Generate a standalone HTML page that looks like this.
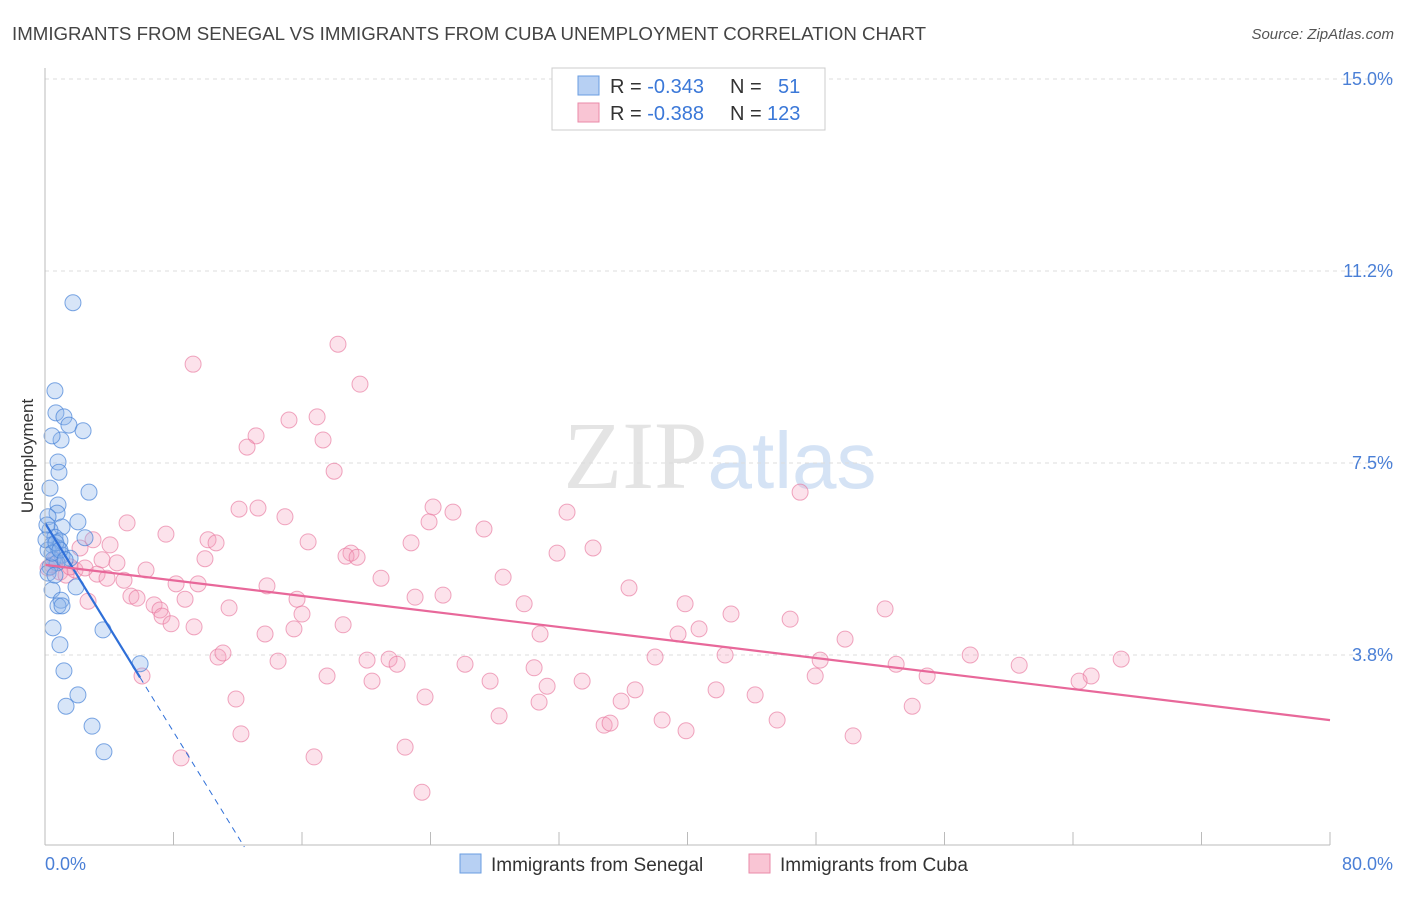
<!DOCTYPE html>
<html><head><meta charset="utf-8"><style>
body{margin:0;background:#fff;font-family:"Liberation Sans",sans-serif;}
svg text{font-family:"Liberation Sans",sans-serif;}
</style></head><body>
<svg id="chart" width="1406" height="892" xmlns="http://www.w3.org/2000/svg">
<text x="12" y="40" font-size="18.7" fill="#444">IMMIGRANTS FROM SENEGAL VS IMMIGRANTS FROM CUBA UNEMPLOYMENT CORRELATION CHART</text>
<text x="1394" y="39" font-size="15" fill="#555" text-anchor="end" font-style="italic">Source: ZipAtlas.com</text>
<text x="720" y="488" font-size="96" text-anchor="middle" fill="#e4e4e4"><tspan font-family="Liberation Serif">ZIP</tspan><tspan fill="#d5e3f5" font-size="80">atlas</tspan></text>
<text transform="translate(33,456) rotate(-90)" font-size="17" fill="#333" text-anchor="middle">Unemployment</text>
<g id="grid"></g><g id="pts"></g><g id="trend"></g>
<line x1="45" y1="68" x2="45" y2="845" stroke="#bbb"/>
<line x1="45" y1="845" x2="1330" y2="845" stroke="#bbb"/>
<text x="45" y="870" font-size="18" fill="#4a7fd6">0.0%</text>
<text x="1393" y="870" font-size="18" fill="#4a7fd6" text-anchor="end">80.0%</text>
<g>
<rect x="552" y="68" width="273" height="62" fill="#fff" stroke="#ccc"/>
<rect x="578" y="76" width="21" height="19" fill="#b7d0f3" stroke="#6a9de0"/>
<rect x="578" y="103" width="21" height="19" fill="#f9c5d4" stroke="#ea8aa8"/>
<text x="610" y="93" font-size="20" fill="#333">R = <tspan fill="#3b78d8">-0.343</tspan><tspan x="730">N = </tspan><tspan x="778" fill="#3b78d8">51</tspan></text>
<text x="610" y="120" font-size="20" fill="#333">R = <tspan fill="#3b78d8">-0.388</tspan><tspan x="730">N = </tspan><tspan x="767" fill="#3b78d8">123</tspan></text>
</g>
<g><rect x="460" y="854" width="21" height="19" fill="#b7d0f3" stroke="#6a9de0"/><text x="491" y="871" font-size="19" fill="#333">Immigrants from Senegal</text></g>
<g><rect x="749" y="854" width="21" height="19" fill="#f9c5d4" stroke="#ea8aa8"/><text x="780" y="871" font-size="19" fill="#333">Immigrants from Cuba</text></g>
</svg>
<script>
const yTicks=[15.0,11.25,7.5,3.75];
const yTickLabels=["15.0%","11.2%","7.5%","3.8%"];
const xTicks=[0,8,16,24,32,40,48,56,64,72,80];
const senegalX=[1.74,0.62,0.68,1.18,1.49,2.37,1.0,0.44,0.81,0.87,0.31,2.74,0.81,0.75,0.19,2.05,1.06,0.31,2.49,0.62,0.93,0.44,0.81,0.19,1.06,1.56,0.50,0.75,0.31,1.93,0.44,1.0,0.81,1.06,3.61,0.50,0.93,1.18,5.92,2.05,1.31,2.93,3.67,0.19,0.62,0.06,0.44,0.68,0.12,0.93,1.25];
const senegalY=[10.63,8.91,8.48,8.40,8.24,8.13,7.95,8.03,7.52,7.32,7.01,6.93,6.68,6.52,6.45,6.35,6.25,6.19,6.04,6.05,5.98,5.90,5.84,5.80,5.70,5.64,5.61,5.55,5.47,5.08,5.02,4.82,4.71,4.71,4.24,4.28,3.95,3.44,3.58,2.97,2.75,2.36,1.86,5.35,5.31,6.0,5.74,5.94,6.29,5.80,5.61];
const cubaX=[9.22,18.24,19.61,16.94,15.19,13.14,12.58,17.31,18.0,47.01,5.11,12.08,13.26,14.94,24.16,23.91,25.40,27.33,32.50,7.53,10.15,10.65,16.38,19.05,18.74,19.43,22.79,31.88,34.12,2.99,3.55,4.48,4.05,2.18,9.96,6.29,3.24,3.86,4.92,8.16,9.53,13.82,20.92,28.52,36.36,5.35,5.73,8.72,6.79,7.16,7.29,11.46,15.69,16.0,23.04,24.78,29.83,39.85,42.71,52.30,2.68,7.85,9.28,13.70,15.50,18.56,30.82,39.41,40.72,46.39,49.81,10.77,11.08,14.51,20.05,21.42,21.92,26.15,30.45,37.98,42.34,48.26,52.99,57.60,60.65,67.0,65.13,64.38,6.04,17.56,20.36,27.71,31.26,33.44,47.95,54.92,11.89,23.66,36.74,35.87,41.78,44.21,30.76,53.99,28.27,34.81,35.18,38.42,45.58,39.91,12.20,22.42,50.31,8.47,16.75,23.47,0.44,0.93,1.31,1.87,0.62,0.19,1.56,2.49];
const cubaY=[9.43,9.82,9.04,8.40,8.34,8.03,7.81,7.95,7.34,6.93,6.33,6.60,6.62,6.45,6.64,6.35,6.54,6.21,6.54,6.11,6.0,5.94,5.96,5.74,5.68,5.66,5.94,5.74,5.84,6.0,5.61,5.55,5.90,5.84,5.63,5.41,5.33,5.25,5.21,5.14,5.14,5.10,5.25,5.27,5.06,4.90,4.86,4.84,4.73,4.63,4.51,4.67,4.84,4.55,4.88,4.92,4.75,4.75,4.55,4.65,4.80,4.36,4.30,4.16,4.26,4.34,4.16,4.16,4.26,4.45,4.06,3.71,3.79,3.63,3.65,3.67,3.57,3.57,3.50,3.71,3.75,3.65,3.57,3.75,3.55,3.67,3.34,3.24,3.34,3.34,3.24,3.24,3.14,3.24,3.34,3.34,2.89,2.93,3.07,2.85,3.07,2.97,2.83,2.75,2.56,2.38,2.42,2.48,2.48,2.27,2.21,1.95,2.17,1.74,1.76,1.07,5.51,5.37,5.31,5.41,5.61,5.45,5.47,5.45];
const senegalTrend=[6.33,-0.51];
const cubaTrend=[5.51,-0.0379];
const NS="http://www.w3.org/2000/svg";
const X=v=>45+v*(1285/80);
const Y=v=>847-v*51.2;
function mk(tag,attrs,parent){const e=document.createElementNS(NS,tag);for(const k in attrs)e.setAttribute(k,attrs[k]);parent.appendChild(e);return e;}
const grid=document.getElementById('grid');
yTicks.forEach((t,i)=>{
 const l=mk('line',{x1:45,x2:1393,y1:Y(t),y2:Y(t),stroke:'#ddd','stroke-dasharray':'4,4'},grid);
 
 
 const tx=mk('text',{x:1393,y:Y(t)+6,'font-size':18,fill:'#4a7fd6','text-anchor':'end'},grid);
 tx.textContent=yTickLabels[i];
 
 
});
xTicks.forEach(t=>{
 const l=mk('line',{x1:X(t),x2:X(t),y1:832,y2:845,stroke:'#bbb'},grid);
 
 
});
const pts=document.getElementById('pts');
cubaX.forEach((x,i)=>{
 const c=mk('circle',{cx:X(x),cy:Y(cubaY[i]),r:8,fill:'rgba(245,160,188,0.3)',stroke:'rgba(232,120,158,0.65)','stroke-width':1},pts);
 
 
});
senegalX.forEach((x,i)=>{
 const c=mk('circle',{cx:X(x),cy:Y(senegalY[i]),r:8,fill:'rgba(140,180,235,0.35)',stroke:'rgba(70,130,215,0.7)','stroke-width':1},pts);
 
 
});
const tr=document.getElementById('trend');
const maxS=Math.max(...senegalX);
const zeroX=-senegalTrend[0]/senegalTrend[1];
const bl=mk('line',{x1:X(0),y1:Y(senegalTrend[0]),x2:X(maxS),y2:Y(senegalTrend[0]+senegalTrend[1]*maxS),stroke:'#2f6fd8','stroke-width':2.2},tr);


const bd=mk('line',{x1:X(maxS),y1:Y(senegalTrend[0]+senegalTrend[1]*maxS),x2:X(zeroX),y2:Y(0),stroke:'#2f6fd8','stroke-width':1,'stroke-dasharray':'6,5'},tr);


const pl=mk('line',{x1:X(0),y1:Y(cubaTrend[0]),x2:X(80),y2:Y(cubaTrend[0]+cubaTrend[1]*80),stroke:'#e8689a','stroke-width':2.2},tr);


</script>
</body></html>
